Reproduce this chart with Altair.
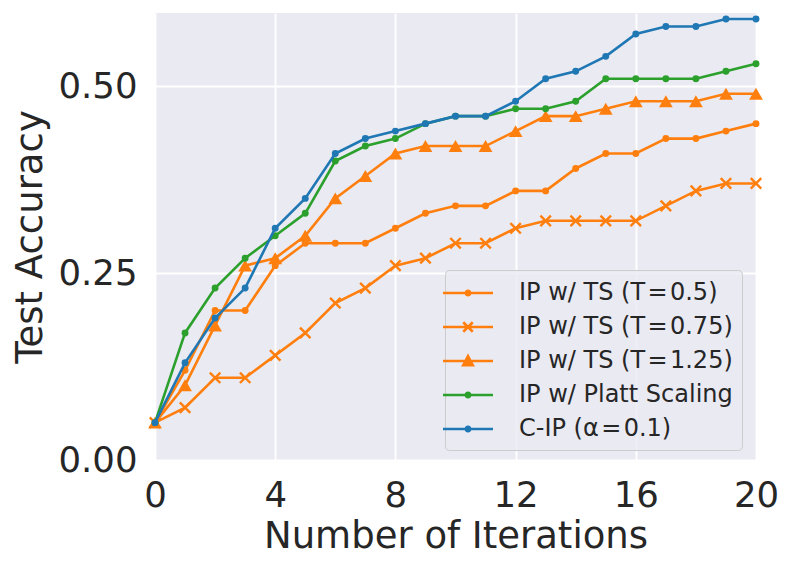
import altair as alt
import pandas as pd

iterations = list(range(21))
series_names = [
    "IP w/ TS (T\u200a=\u200a0.5)",
    "IP w/ TS (T\u200a=\u200a0.75)",
    "IP w/ TS (T\u200a=\u200a1.25)",
    "IP w/ Platt Scaling",
    "C-IP (α\u200a=\u200a0.1)",
]
ts_05 = [.05, .12, .20, .20, .26, .29, .29, .29, .31, .33, .34, .34, .36, .36, .39, .41, .41, .43, .43, .44, .45]
ts_075 = [.05, .07, .11, .11, .14, .17, .21, .23, .26, .27, .29, .29, .31, .32, .32, .32, .32, .34, .36, .37, .37]
ts_125 = [.05, .10, .18, .26, .27, .30, .35, .38, .41, .42, .42, .42, .44, .46, .46, .47, .48, .48, .48, .49, .49]
platt = [.05, .17, .23, .27, .30, .33, .40, .42, .43, .45, .46, .46, .47, .47, .48, .51, .51, .51, .51, .52, .53]
cip = [.05, .13, .19, .23, .31, .35, .41, .43, .44, .45, .46, .46, .48, .51, .52, .54, .57, .58, .58, .59, .59]
x_ticks = [0, 4, 8, 12, 16, 20]
y_ticks = [0.0, 0.25, 0.5]

all_values = [ts_05, ts_075, ts_125, platt, cip]
colors = ["#ff7f0e", "#ff7f0e", "#ff7f0e", "#2ca02c", "#1f77b4"]

rows = []
for name, vals in zip(series_names, all_values):
    for it, v in zip(iterations, vals):
        rows.append({"iter": it, "acc": v, "series": name})
df = pd.DataFrame(rows)

X_PATH = "M-1,-1L1,1M-1,1L1,-1"
marker_specs = [
    dict(shape="circle", filled=True, size=48),
    dict(shape=X_PATH, filled=False, size=110, strokeWidth=2.4),
    dict(shape="triangle-up", filled=True, size=190),
    dict(shape="circle", filled=True, size=48),
    dict(shape="circle", filled=True, size=48),
]
legend_paths = [
    "M-2,0H2M-0.18,0A0.18,0.18,0,1,0,0.18,0A0.18,0.18,0,1,0,-0.18,0Z",
    "M-2,0H2M-0.38,-0.38L0.38,0.38M-0.38,0.38L0.38,-0.38",
    "M-2,0H2M0,-0.4L0.38,0.34L-0.38,0.34Z",
    "M-2,0H2M-0.18,0A0.18,0.18,0,1,0,0.18,0A0.18,0.18,0,1,0,-0.18,0Z",
    "M-2,0H2M-0.18,0A0.18,0.18,0,1,0,0.18,0A0.18,0.18,0,1,0,-0.18,0Z",
]

base = alt.Chart(df)
x_enc = alt.X(
    "iter:Q",
    scale=alt.Scale(domain=[0, 20], nice=False, zero=False),
    axis=alt.Axis(values=x_ticks, title="Number of Iterations", labelPadding=18,
                  titlePadding=5, format="d", labelFlush=False),
)
y_enc = alt.Y(
    "acc:Q",
    scale=alt.Scale(domain=[0, 0.598], nice=False),
    axis=alt.Axis(values=y_ticks, format=".2f", title="Test Accuracy",
                  labelPadding=18, titlePadding=8, labelFlush=False),
)

layers = []
for i, name in enumerate(series_names):
    sub = base.transform_filter(alt.datum.series == name)
    layers.append(sub.mark_line(color=colors[i], strokeWidth=2.6).encode(x=x_enc, y=y_enc))
    spec = marker_specs[i]
    if spec["filled"]:
        pt = sub.mark_point(shape=spec["shape"], filled=True, size=spec["size"],
                            color=colors[i], opacity=1)
    else:
        pt = sub.mark_point(shape=spec["shape"], filled=False, size=spec["size"],
                            color=colors[i], strokeWidth=spec["strokeWidth"], opacity=1)
    layers.append(pt.encode(x=x_enc, y=y_enc))

leg = alt.Legend(
    title=None,
    orient="none",
    legendX=290,
    legendY=257,
    symbolSize=625,
    symbolStrokeWidth=2.6,
    symbolOpacity=1,
    labelFontSize=24,
    labelFont="DejaVu Sans",
    labelColor="#262626",
    labelLimit=400,
    labelOffset=37,
    rowPadding=8,
    padding=9,
    fillColor="rgba(234,234,242,0.8)",
    strokeColor="#cccccc",
    cornerRadius=4,
)

legend_layer = base.mark_point(opacity=0, filled=True).encode(
    x=x_enc,
    y=y_enc,
    fill=alt.Fill("series:N", scale=alt.Scale(domain=series_names, range=colors), legend=leg),
    stroke=alt.Stroke("series:N", scale=alt.Scale(domain=series_names, range=colors), legend=leg),
    shape=alt.Shape("series:N", scale=alt.Scale(domain=series_names, range=legend_paths), legend=leg),
)

chart = alt.layer(*layers, legend_layer).properties(
    width=601,
    height=447,
    autosize=alt.AutoSizeParams(type="none"),
    padding={"left": 147, "top": 5, "right": 25, "bottom": 96},
    background="white",
).configure_view(
    fill="#EAEAF2", stroke=None
).configure_axis(
    labelFont="DejaVu Sans",
    titleFont="DejaVu Sans",
    labelFontSize=35.5,
    titleFontSize=37,
    titleFontWeight="normal",
    labelColor="#262626",
    titleColor="#262626",
    domain=False,
    ticks=False,
    tickSize=0,
    grid=True,
    gridColor="white",
    gridWidth=1.8,
    gridOpacity=1,
)

chart.save("out.html", embed_options={"renderer": "svg", "actions": False})
